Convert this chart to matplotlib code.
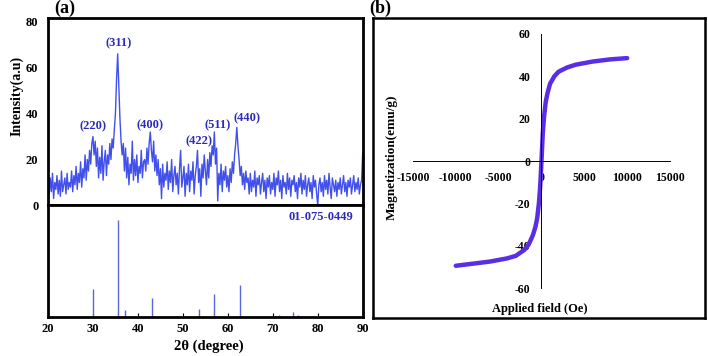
import numpy as np
import matplotlib
matplotlib.use("Agg")
from matplotlib import pyplot as plt

plt.rcParams['font.family'] = ['Liberation Serif', 'DejaVu Serif']
plt.rcParams['font.weight'] = 'bold'
plt.rcParams['axes.unicode_minus'] = False

# XRD pattern, 20-90 deg, step 0.25
two_theta = np.arange(0, 281) * 0.25 + 20
intensity = [
    17, 4, 12, 6, 14, 3, 10, 7, 13, 5, 11, 4, 15, 6, 9, 12, 5, 14, 7, 10,
    8, 15, 6, 13, 9, 17, 7, 14, 10, 19, 8, 16, 12, 22, 11, 20, 15, 24, 18, 27,
    30, 22, 28, 17, 25, 12, 21, 14, 26, 11, 19, 24, 13, 22, 18, 27, 20, 29, 25, 33,
    40, 55, 66, 52, 38, 28, 22, 27, 15, 25, 12, 21, 9, 18, 14, 28, 11, 20, 13, 22,
    10, 17, 14, 24, 12, 19, 20, 15, 25, 18, 27, 32, 24, 19, 28, 15, 22, 13, 20, 9,
    16, 3, 18, 8, 14, 11, 19, 7, 15, 10, 20, 6, 13, 17, 9, 14, 5, 16, 24, 8,
    12, 17, 4, 14, 9, 18, 6, 15, 11, 19, 5, 13, 17, 24, 10, 16, 4, 18, 12, 22,
    15, 9, 20, 12, 23, 17, 26, 22, 32, 18, 25, 2, 14, 9, 18, 6, 15, 11, 17, 8,
    13, 6, 16, 10, 19, 14, 22, 27, 34, 26, 20, 13, 17, 9, 14, 7, 15, 10, 12, 5,
    14, 6, 11, 8, 15, 4, 12, 9, 13, 5, 10, 14, 6, 11, 3, 12, 8, 13, 5, 10,
    7, 14, 4, 12, 9, 15, 6, 11, 3, 13, 8, 10, 5, 14, 7, 12, 4, 11, 9, 13,
    6, 10, 3, 12, 8, 14, 5, 11, 7, 13, 4, 9, 12, 6, 10, 3, 13, 8, 11, 5,
    0, 9, 12, 6, 10, 4, 13, 7, 11, 5, 14, 8, 3, 12, 9, 6, 11, 4, 10, 7,
    12, 5, 9, 13, 6, 10, 4, 11, 8, 12, 5, 9, 13, 6, 10, 7, 12, 5, 9, 11,
    23,
]

# peak labels
hkl_labels = ['(220)', '(311)', '(400)', '(422)', '(511)', '(440)']
hkl_x = [29.9, 35.6, 42.7, 53.6, 57.8, 64.3]
hkl_y = [34.5, 70.7, 35, 27.9, 35, 38]

# reference card 01-075-0449
ref_pos = [30.1, 35.5, 37.1, 43.1, 53.5, 57.0, 62.6, 71.4, 74.5, 75.5]
ref_int = [29, 100, 7, 20, 8, 23.5, 33, 2, 5, 2]

# M-H loop
field = [-10000, -8000, -6000, -4000, -3000, -2000, -1500, -1000, -700, -500,
         -300, -150, 0, 150, 300, 500, 700, 1000, 1500, 2000, 3000, 4000,
         6000, 8000, 10000]
magnet = [-49.5, -48.5, -47.5, -46, -44.8, -42, -39.5, -35, -31, -27,
          -20, -12, 0, 13, 21, 28, 32, 36.5, 40, 42.2, 44.2, 45.5,
          47, 48, 48.6]

fig = plt.figure(figsize=(7.08, 3.56), dpi=100)

line_blue = '#4150eb'
text_blue = '#2b2bb5'

# (a) top
ax1 = fig.add_axes([0.0678, 0.4228, 0.4445, 0.5258])
ax1.plot(two_theta, intensity, color=line_blue, lw=1.0)
ax1.set_xlim(20, 90)
ax1.set_ylim(0, 81.5)
ax1.set_yticks([0, 20, 40, 60, 80])
ax1.set_xticks([])
ax1.tick_params(axis='y', length=0, pad=7, labelsize=9)
for s in ax1.spines.values():
    s.set_linewidth(2)
for lab, x, y in zip(hkl_labels, hkl_x, hkl_y):
    ax1.text(x, y, lab, color=text_blue, fontsize=9, ha='center', va='center',
             fontweight='bold')

# (a) bottom
ax2 = fig.add_axes([0.0678, 0.1096, 0.4445, 0.3132])
ax2.vlines(ref_pos, 0, ref_int, color='#5a66dd', lw=1)
ax2.set_xlim(20, 90)
ax2.set_ylim(0, 115)
ax2.set_yticks([])
ax2.set_xticks(range(20, 91, 10))
ax2.tick_params(axis='x', direction='in', length=3, pad=4, labelsize=9)
for s in ax2.spines.values():
    s.set_linewidth(2)
ax2.text(0.97, 0.9, '01-075-0449', transform=ax2.transAxes, color=text_blue,
         fontsize=9, ha='right', va='center', fontweight='bold')

fig.text(17 / 708, 1 - 96 / 356, 'Intensity(a.u)', rotation=90, ha='center',
         va='center', fontsize=10, fontweight='bold')
fig.text(209 / 708, 1 - 346 / 356, '2θ (degree)', ha='center', va='center',
         fontsize=10.5, fontweight='bold')
fig.text(65 / 708, 1 - 8 / 356, '(a)', ha='center', va='center', fontsize=13,
         fontweight='bold')

# (b) frame
box = fig.add_axes([0.5268, 0.1067, 0.469, 0.8427])
box.set_xticks([])
box.set_yticks([])
for s in box.spines.values():
    s.set_linewidth(1.8)
box.patch.set_alpha(0)

# (b) data
ax3 = fig.add_axes([0.5833, 0.191, 0.363, 0.7135])
ax3.patch.set_alpha(0)
ax3.plot(field, magnet, color='#5a2ee6', lw=3.2, solid_capstyle='round')
ax3.set_xlim(-15000, 15000)
ax3.set_ylim(-60, 60)
ax3.spines['left'].set_position(('data', 0))
ax3.spines['bottom'].set_position(('data', 0))
ax3.spines['top'].set_visible(False)
ax3.spines['right'].set_visible(False)
ax3.spines['left'].set_linewidth(0.7)
ax3.spines['bottom'].set_linewidth(0.7)
ax3.set_xticks([-15000, -10000, -5000, 0, 5000, 10000, 15000])
ax3.set_yticks([-60, -40, -20, 0, 20, 40, 60])
ax3.tick_params(length=0, labelsize=8.5)
ax3.tick_params(axis='y', pad=8)
ax3.tick_params(axis='x', pad=8)

fig.text(392 / 708, 1 - 157 / 356, 'Magnetization(emu/g)', rotation=90,
         ha='center', va='center', fontsize=9.5, fontweight='bold')
fig.text(540 / 708, 1 - 309 / 356, 'Applied field (Oe)', ha='center',
         va='center', fontsize=9, fontweight='bold')
fig.text(380 / 708, 1 - 8 / 356, '(b)', ha='center', va='center', fontsize=13,
         fontweight='bold')

fig.savefig('out.png', dpi=100)
